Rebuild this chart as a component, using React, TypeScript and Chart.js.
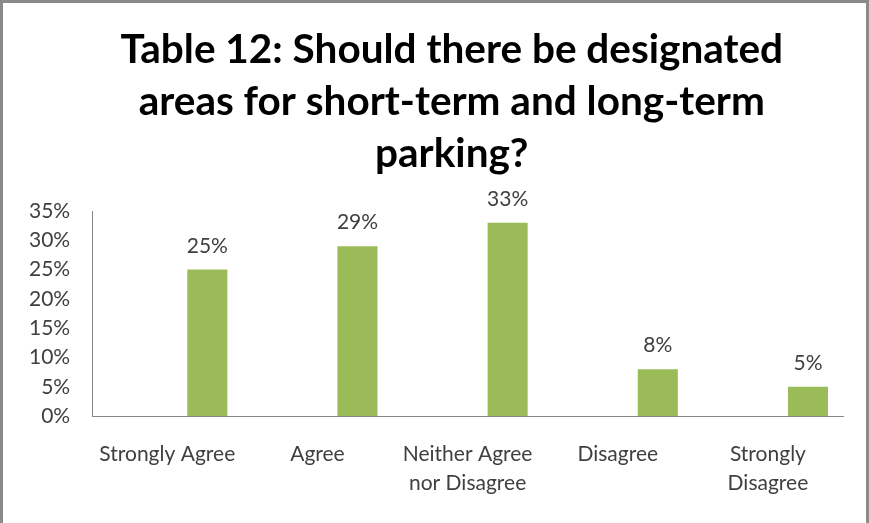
import React, { useEffect, useRef } from "react";
import { Chart, registerables } from "chart.js";

Chart.register(...registerables);

// ---- data ----
const categories: (string | string[])[] = [
  "Strongly Agree",
  "Agree",
  ["Neither Agree", "nor Disagree"],
  "Disagree",
  ["Strongly", "Disagree"],
];
// two empty placeholder series (as in the original clustered Excel chart)
const seriesA: (number | null)[] = [null, null, null, null, null];
const seriesB: (number | null)[] = [null, null, null, null, null];
const responses: number[] = [25, 29, 33, 8, 5];
const yMax = 35;
const yStep = 5;
const titleLines: string[] = [
  "Table 12: Should there be designated",
  "areas for short-term and long-term",
  "parking?",
];

const FONT = "Lato, 'Open Sans', sans-serif";
const TEXT = "#404040";
const GREEN = "#9BBB59";
const AXIS = "#868686";

const titlePlugin = {
  id: "customTitle",
  afterDraw(chart: any) {
    const ctx = chart.ctx;
    ctx.save();
    ctx.fillStyle = "#000000";
    ctx.font = `bold 40.5px ${FONT}`;
    ctx.textAlign = "center";
    ctx.textBaseline = "alphabetic";
    const cx = chart.width * 0.52;
    titleLines.forEach((line, i) => {
      ctx.fillText(line, cx, 60 + i * 52);
    });
    ctx.restore();
  },
};

const valueLabels = {
  id: "valueLabels",
  afterDatasetsDraw(chart: any) {
    const ctx = chart.ctx;
    const meta = chart.getDatasetMeta(2);
    ctx.save();
    ctx.fillStyle = TEXT;
    ctx.font = `21px ${FONT}`;
    ctx.textAlign = "center";
    ctx.textBaseline = "alphabetic";
    meta.data.forEach((bar: any, i: number) => {
      const v = responses[i];
      if (v == null) return;
      ctx.fillText(`${v}%`, bar.x, bar.y - 17);
    });
    ctx.restore();
  },
};

export default function App() {
  const ref = useRef<HTMLCanvasElement | null>(null);
  useEffect(() => {
    if (!ref.current) return;
    const chart = new Chart(ref.current, {
      type: "bar",
      data: {
        labels: categories,
        datasets: [
          { label: "A", data: seriesA, backgroundColor: GREEN },
          { label: "B", data: seriesB, backgroundColor: GREEN },
          { label: "Responses", data: responses, backgroundColor: GREEN },
        ],
      },
      options: {
        responsive: false,
        animation: false,
        events: [],
        datasets: {
          bar: { categoryPercentage: 0.8, barPercentage: 1.0 },
        },
        layout: { padding: { left: 4, right: 23, top: 208, bottom: 1 } },
        plugins: {
          legend: { display: false },
          title: { display: false },
          tooltip: { enabled: false },
        },
        scales: {
          x: {
            grid: { display: false, drawTicks: false },
            border: { display: true, color: AXIS, width: 1 },
            ticks: {
              color: TEXT,
              font: { family: FONT, size: 21, lineHeight: 1.38 },
              padding: 24,
              maxRotation: 0,
              autoSkip: false,
            },
          },
          y: {
            min: 0,
            max: yMax,
            grid: { display: false, drawTicks: false },
            border: { display: true, color: AXIS, width: 1 },
            ticks: {
              stepSize: yStep,
              autoSkip: false,
              color: TEXT,
              font: { family: FONT, size: 21 },
              padding: 22,
              callback: (v: any) => `${v}%`,
            },
          },
        },
      },
      plugins: [titlePlugin, valueLabels],
    });
    return () => chart.destroy();
  }, []);

  return (
    <div
      style={{
        position: "absolute",
        left: 0,
        top: 0,
        width: 869,
        height: 523,
        boxSizing: "border-box",
        background: "#ffffff",
        borderLeft: "3px solid #8a8a8a",
        borderTop: "3px solid #8a8a8a",
        borderRight: "3px solid #8a8a8a",
        overflow: "hidden",
      }}
    >
      <canvas ref={ref} width={863} height={520} style={{ display: "block", width: 863, height: 520 }} />
    </div>
  );
}
